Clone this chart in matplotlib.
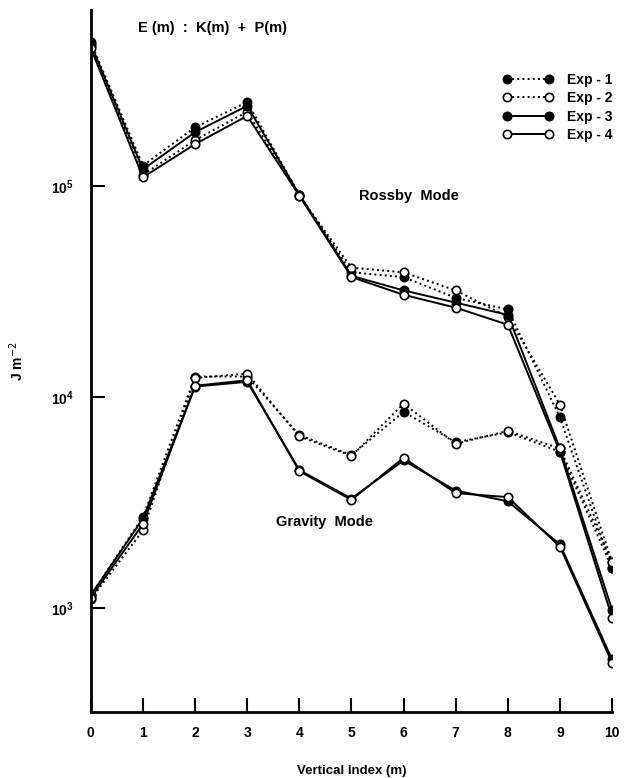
import matplotlib.pyplot as plt
from matplotlib.lines import Line2D

# vertical index
m = list(range(11))

# Rossby mode energy (J m-2)
rossby_exp1 = [480000, 125000, 190000, 250000, 91000, 39000, 37000, 29500, 26000, 8000, 1550]
rossby_exp2 = [460000, 113000, 165000, 225000, 90000, 41000, 39000, 32000, 24000, 9200, 1650]
rossby_exp3 = [470000, 120000, 180000, 240000, 91000, 37500, 32000, 28000, 24500, 5700, 980]
rossby_exp4 = [450000, 110000, 158000, 215000, 90000, 37000, 30500, 26500, 22000, 5500, 900]

# gravity mode energy (J m-2)
gravity_exp1 = [1150, 2700, 12500, 12500, 6600, 5300, 8500, 6100, 6800, 5500, 1550]
gravity_exp2 = [1100, 2330, 12300, 12900, 6500, 5250, 9300, 6000, 6900, 5700, 1650]
gravity_exp3 = [1150, 2650, 11200, 11800, 4500, 3300, 5000, 3600, 3200, 2000, 570]
gravity_exp4 = [1120, 2500, 11300, 12000, 4450, 3250, 5150, 3500, 3350, 1950, 550]

labels = ['Exp - 1', 'Exp - 2', 'Exp - 3', 'Exp - 4']

plt.rcParams['font.family'] = ['Liberation Sans', 'DejaVu Sans']

fig = plt.figure(figsize=(6.31, 7.78), dpi=100)
ax = fig.add_axes([0.144, 0.085, 0.826, 0.902])

styles = [
    dict(linestyle=':', marker='o', mfc='black'),
    dict(linestyle=':', marker='o', mfc='white'),
    dict(linestyle='-', marker='o', mfc='black'),
    dict(linestyle='-', marker='o', mfc='white'),
]
kw = dict(color='black', lw=1.4, ms=6, mec='black', mew=1.2)

for data, st in zip([rossby_exp1, rossby_exp2, rossby_exp3, rossby_exp4], styles):
    ax.plot(m, data, **kw, **st)
for data, st in zip([gravity_exp1, gravity_exp2, gravity_exp3, gravity_exp4], styles):
    ax.plot(m, data, **kw, **st)

ax.set_yscale('log')
ax.set_xlim(0, 10)
ax.set_ylim(10**2.507, 10**5.834)
ax.set_yticks([1e3, 1e4, 1e5])
ax.minorticks_off()
ax.set_xticks(m)

for s in ['top', 'right']:
    ax.spines[s].set_visible(False)
for s in ['left', 'bottom']:
    ax.spines[s].set_linewidth(2)
ax.tick_params(direction='in', length=10, width=1.5, labelsize=10)
ax.tick_params(axis='x', pad=10)
ax.tick_params(axis='y', pad=12)
for t in ax.get_xticklabels() + ax.get_yticklabels():
    t.set_fontweight('bold')

ax.set_xlabel('Vertical Index (m)', fontsize=9.5, fontweight='bold', labelpad=18)
ax.set_ylabel('J m$^{-2}$', fontsize=10, fontweight='bold')
ax.yaxis.set_label_coords(-0.125, 0.5)

ax.text(0.9, 5.6e5, 'E (m)  :  K(m)  +  P(m)', fontsize=10.5, fontweight='bold', va='center')
ax.text(5.15, 9.0e4, 'Rossby  Mode', fontsize=10.5, fontweight='bold', va='center')
ax.text(3.56, 2.55e3, 'Gravity  Mode', fontsize=10.5, fontweight='bold', va='center')

handles = [Line2D([], [], **kw, **st) for st in styles]
ax.legend(handles, labels, loc='upper right', bbox_to_anchor=(0.99, 0.922),
          bbox_transform=fig.transFigure, frameon=False, numpoints=2,
          handlelength=3.6, handletextpad=1.0, labelspacing=0.3,
          prop={'weight': 'bold', 'size': 10})

plt.savefig('out.png')
